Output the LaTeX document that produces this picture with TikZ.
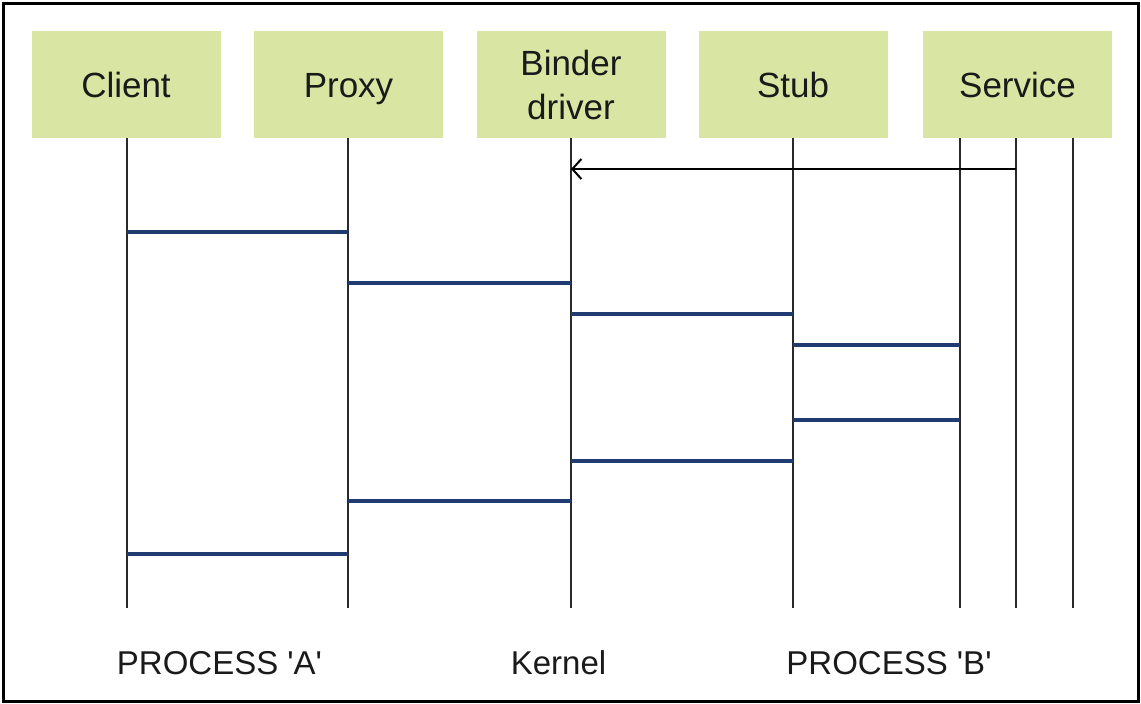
\documentclass[tikz,border=0pt]{standalone}
\usepackage{fontspec}
\setmainfont{Liberation Sans}
\usetikzlibrary{arrows.meta}
\definecolor{boxgreen}{HTML}{D9E6A3}
\definecolor{msgblue}{HTML}{1F3B70}
\definecolor{lifegray}{HTML}{2A2A2A}
\definecolor{inkblack}{HTML}{1A1A1A}
\tikzset{
  actor/.style={fill=boxgreen, draw=none, minimum width=189pt, minimum height=107pt,
    inner sep=0pt, align=center, text=inkblack,
    font=\fontsize{35}{44}\selectfont},
  oneline/.style={text height=25pt, text depth=0pt},
  lifeline/.style={draw=lifegray, line width=2pt},
  msg/.style={draw=msgblue, line width=4pt},
  call/.style={draw=black, line width=2pt, -{Straight Barb[length=9pt,width=20pt,line width=2pt]}},
  caption/.style={text=inkblack, inner sep=0pt, font=\fontsize{33}{40}\selectfont}
}
\begin{document}
\begin{tikzpicture}[x=1pt,y=-1pt]
  \useasboundingbox (0,0) rectangle (1141,704);
  \fill[white] (0,0) rectangle (1141,704);
  \draw[black, line width=3pt] (3,3) rectangle (1138,701);

  % participants
  \node[actor,oneline] (cl) at (126,84.5) {Client};
  \node[actor,oneline] (px) at (348.5,84.5) {Proxy};
  \node[actor] (bd) at (571,84.5) {Binder\\driver};
  \node[actor,oneline] (sb) at (793,84.5) {Stub};
  \node[actor,oneline] (sv) at (1017.5,84.5) {Service};

  % bottom of the lifelines and the x positions of the service threads
  \coordinate (bot) at (0,608);
  \coordinate (clx) at (127,0);
  \coordinate (pxx) at (348,0);
  \coordinate (bdx) at (571,0);
  \coordinate (sbx) at (793,0);
  \coordinate (sva) at (960,0);
  \coordinate (svb) at (1016,0);
  \coordinate (svc) at (1073,0);

  % lifelines
  \foreach \c in {clx,pxx,bdx,sbx,sva,svb,svc}
    \draw[lifeline] (\c |- cl.south) -- (\c |- bot);

  % message levels
  \coordinate (y0) at (0,169);
  \coordinate (y1) at (0,232);
  \coordinate (y2) at (0,283);
  \coordinate (y3) at (0,314);
  \coordinate (y4) at (0,345);
  \coordinate (y5) at (0,420);
  \coordinate (y6) at (0,461);
  \coordinate (y7) at (0,501);
  \coordinate (y8) at (0,554);

  % service registers with the driver
  \draw[call] (svb |- y0) -- (bdx |- y0);

  % request and reply path
  \draw[msg] (clx |- y1) -- (pxx |- y1);
  \draw[msg] (pxx |- y2) -- (bdx |- y2);
  \draw[msg] (bdx |- y3) -- (sbx |- y3);
  \draw[msg] (sbx |- y4) -- (sva |- y4);
  \draw[msg] (sbx |- y5) -- (sva |- y5);
  \draw[msg] (bdx |- y6) -- (sbx |- y6);
  \draw[msg] (pxx |- y7) -- (bdx |- y7);
  \draw[msg] (clx |- y8) -- (pxx |- y8);

  % domains
  \node[caption] (pa) at (219.5,663) {PROCESS \textquotesingle A\textquotesingle};
  \node[caption] (kn) at (558.5,663) {Kernel};
  \node[caption] (pb) at (889,663) {PROCESS \textquotesingle B\textquotesingle};
\end{tikzpicture}
\end{document}
